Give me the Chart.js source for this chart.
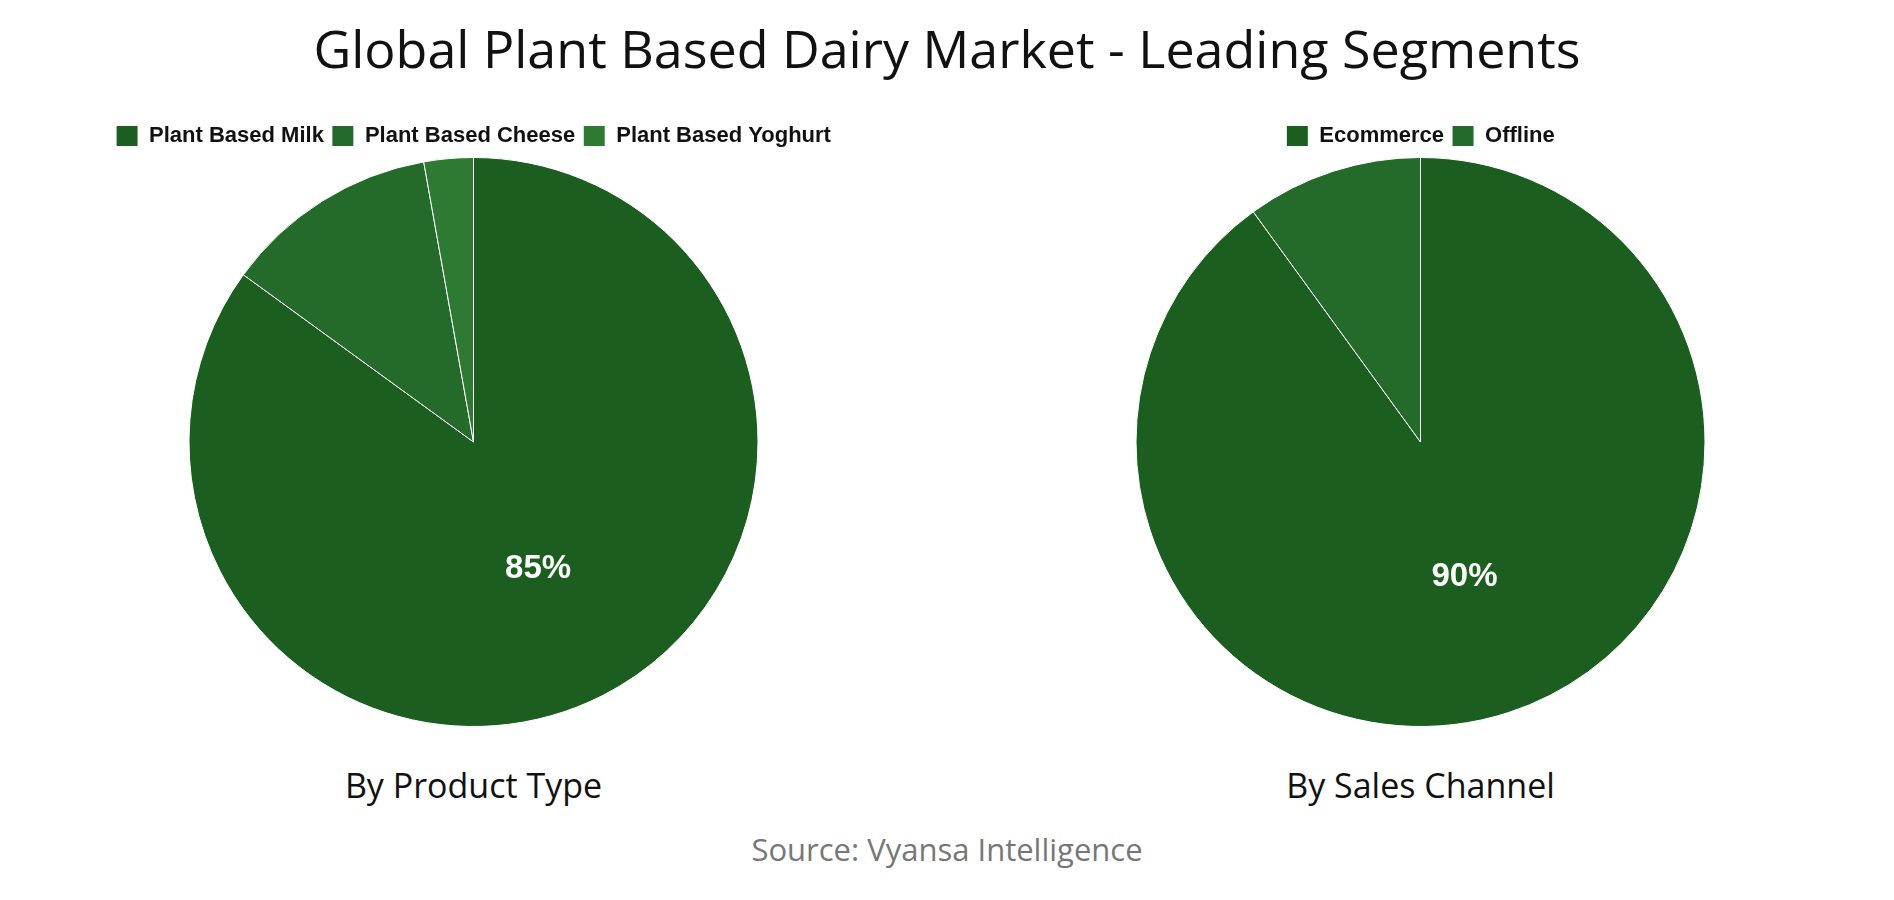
<!DOCTYPE html>
<html>
<head>
<meta charset="utf-8">
<script src="https://cdn.jsdelivr.net/npm/chart.js@4.4.1/dist/chart.umd.min.js"></script>
<style>
  body { margin: 0; background: #fff; width: 1894px; height: 900px; position: relative; overflow: hidden; }
  #title { position: absolute; top: 12px; left: 0; width: 1894px; text-align: center;
           font-family: "Open Sans", sans-serif; font-size: 52px; color: #111; }
  .box { position: absolute; top: 117px; width: 947px; height: 610px; }
  .sub { position: absolute; top: 762px; width: 947px; text-align: center;
         font-family: "Open Sans", sans-serif; font-size: 34px; color: #111; }
  #source { position: absolute; top: 828px; left: 0; width: 1894px; text-align: center;
            font-family: "Open Sans", sans-serif; font-size: 31px; color: #777; }
</style>
</head>
<body>
<div id="title">Global Plant Based Dairy Market - Leading Segments</div>
<div class="box" style="left:0"><canvas id="productChart"></canvas></div>
<div class="box" style="left:947px"><canvas id="channelChart"></canvas></div>
<div class="sub" style="left:0">By Product Type</div>
<div class="sub" style="left:947px">By Sales Channel</div>
<div id="source">Source: Vyansa Intelligence</div>

<script>
// product type split (percent)
const productLabels = ['Plant Based Milk', 'Plant Based Cheese', 'Plant Based Yoghurt'];
const productValues = [85, 12.2, 2.8];
const productColors = ['#1b5e20', '#246a2b', '#2e7a33'];

// sales channel split (percent)
const channelLabels = ['Ecommerce', 'Offline'];
const channelValues = [90, 10];
const channelColors = ['#1b5e20', '#246a2b'];

// writes the percentage on the biggest slice only
const bigSliceLabel = {
  id: 'bigSliceLabel',
  afterDatasetsDraw(chart) {
    const c = chart.ctx;
    const data = chart.data.datasets[0].data;
    const max = Math.max(...data);
    chart.getDatasetMeta(0).data.forEach((arc, i) => {
      if (data[i] !== max) return;
      const pos = arc.tooltipPosition();
      c.save();
      c.fillStyle = '#ffffff';
      c.font = 'bold 33px "Liberation Sans", Arial, sans-serif';
      c.textAlign = 'center';
      c.textBaseline = 'middle';
      c.fillText(data[i] + '%', pos.x, pos.y);
      c.restore();
    });
  }
};

function createPie(id, labels, values, colors) {
  new Chart(document.getElementById(id), {
    type: 'pie',
    data: {
      labels: labels,
      datasets: [{
        data: values,
        backgroundColor: colors,
        borderColor: '#ffffff',
        borderWidth: 1
      }]
    },
    options: {
      animation: false,
      responsive: true,
      maintainAspectRatio: false,
      layout: { padding: 0 },
      plugins: {
        tooltip: { enabled: false },
        legend: {
          position: 'top',
          labels: {
            color: '#111',
            boxWidth: 22,
            boxHeight: 21,
            padding: 8,
            font: { family: '"Liberation Sans", Arial, sans-serif', size: 22, weight: 'bold' }
          }
        }
      }
    },
    plugins: [bigSliceLabel]
  });
}

createPie('productChart', productLabels, productValues, productColors);
createPie('channelChart', channelLabels, channelValues, channelColors);
</script>
</body>
</html>
